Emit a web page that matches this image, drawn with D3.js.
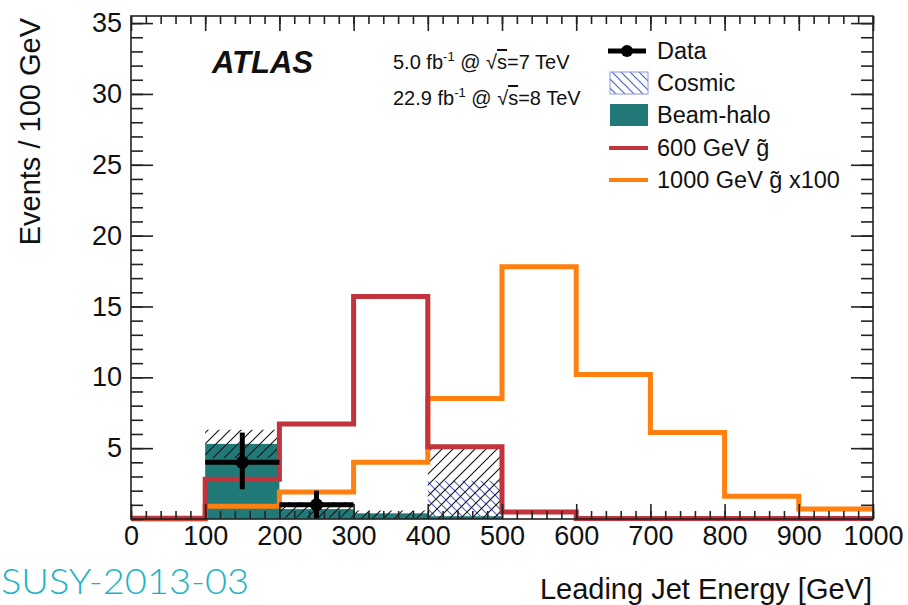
<!DOCTYPE html>
<html lang="en">
<head>
    <meta charset="utf-8">
    <title>Leading Jet Energy</title>
    <style type="text/css">
        body{ margin:0; background:#fff; }
        .chart text{ font-family:"Liberation Sans", Arial, sans-serif; fill:#111; }
        .axis path{ display:none; }
        .axis line{ stroke:#222; stroke-width:1.6; }
        .axis text{ font-size:27px; fill:#111; }
    </style>
</head>
<body>
   <svg class="chart" width="908" height="605"></svg>

   <script src="https://d3js.org/d3.v7.min.js"></script>
   <script>
        // bins of 100 GeV
        var binEdges = [0, 100, 200, 300, 400, 500, 600, 700, 800, 900];
        var gluino600 = [0.05, 2.8, 6.7, 15.7, 5.1, 0.5, 0.03, 0.03, 0.03, 0.03];
        var gluino1000 = [0, 0.9, 1.9, 4.0, 8.5, 17.8, 10.2, 6.1, 1.6, 0.7];
        var beamHalo = [0, 5.3, 0.7, 0.4, 0.2, 0, 0, 0, 0, 0];
        var cosmic = [0, 0, 0, 0, 2.5, 0, 0, 0, 0, 0];
        // uncertainty band on the background sum
        var bandLo = [0, 4.3, 0.1, 0, 0, 0, 0, 0, 0, 0];
        var bandHi = [0, 6.3, 1.2, 0.6, 5.1, 0, 0, 0, 0, 0];
        // data points
        var dataX = [150, 250];
        var dataY = [4, 1];
        var dataLo = [2.1, 0];
        var dataHi = [6.1, 2.0];

        var yTicks = [5, 10, 15, 20, 25, 30, 35];
        var xTicks = [0, 100, 200, 300, 400, 500, 600, 700, 800, 900, 1000];

        var svg = d3.select('.chart');
        var defs = svg.append('defs');

        // hatch patterns
        var hatch = defs.append('pattern')
            .attr('id', 'hatchBlack')
            .attr('patternUnits', 'userSpaceOnUse')
            .attr('width', 11).attr('height', 11);
        hatch.append('path')
            .attr('d', 'M0,11 L11,0 M-3,3 L3,-3 M8,14 L14,8')
            .attr('stroke', '#111').attr('stroke-width', 1.1);

        var hatchBlue = defs.append('pattern')
            .attr('id', 'hatchBlue')
            .attr('patternUnits', 'userSpaceOnUse')
            .attr('width', 9).attr('height', 9);
        hatchBlue.append('path')
            .attr('d', 'M0,0 L9,9 M-3,6 L3,12 M6,-3 L12,3')
            .attr('stroke', '#4a5fcc').attr('stroke-width', 1.1);

        var x = d3.scaleLinear().domain([0, 1000]).range([131, 873]);
        var y = d3.scaleLinear().domain([0, 35.5]).range([519, 16]);
        var bw = 100;

        // beam-halo
        svg.append('g').selectAll('rect')
            .data(beamHalo)
            .enter()
            .append('rect')
            .attr('x', function(d, i){ return x(binEdges[i]); })
            .attr('y', function(d){ return y(d); })
            .attr('width', function(d, i){ return x(binEdges[i] + bw) - x(binEdges[i]); })
            .attr('height', function(d){ return y(0) - y(d); })
            .attr('fill', '#217a78');

        // cosmic stacked on beam-halo
        svg.append('g').selectAll('rect')
            .data(cosmic)
            .enter()
            .append('rect')
            .attr('x', function(d, i){ return x(binEdges[i]); })
            .attr('y', function(d, i){ return y(d + beamHalo[i]); })
            .attr('width', function(d, i){ return x(binEdges[i] + bw) - x(binEdges[i]); })
            .attr('height', function(d, i){ return y(beamHalo[i]) - y(d + beamHalo[i]); })
            .attr('fill', 'url(#hatchBlue)');

        // uncertainty band
        svg.append('g').selectAll('rect')
            .data(bandHi)
            .enter()
            .append('rect')
            .attr('x', function(d, i){ return x(binEdges[i]); })
            .attr('y', function(d){ return y(d); })
            .attr('width', function(d, i){ return x(binEdges[i] + bw) - x(binEdges[i]); })
            .attr('height', function(d, i){ return Math.max(0, y(bandLo[i]) - y(d)); })
            .attr('fill', 'url(#hatchBlack)');

        // step lines
        function steps(vals){
            var pts = vals.map(function(v, i){ return [binEdges[i], v]; });
            pts.push([1000, vals[vals.length - 1]]);
            return pts;
        }
        var stepLine = d3.line()
            .x(function(d){ return x(d[0]); })
            .y(function(d){ return y(d[1]); })
            .curve(d3.curveStepAfter);

        svg.append('path')
            .attr('d', stepLine(steps(gluino1000)))
            .attr('fill', 'none')
            .attr('stroke', '#ff7f0f')
            .attr('stroke-width', 5);

        svg.append('path')
            .attr('d', stepLine(steps(gluino600)))
            .attr('fill', 'none')
            .attr('stroke', '#c3333b')
            .attr('stroke-width', 5);

        // data
        var gd = svg.append('g');
        gd.selectAll('.xerr')
            .data(dataX)
            .enter()
            .append('line')
            .attr('x1', function(d){ return x(d - 50); })
            .attr('x2', function(d){ return x(d + 50); })
            .attr('y1', function(d, i){ return y(dataY[i]); })
            .attr('y2', function(d, i){ return y(dataY[i]); })
            .attr('stroke', '#000').attr('stroke-width', 5);
        gd.selectAll('.yerr')
            .data(dataX)
            .enter()
            .append('line')
            .attr('x1', function(d){ return x(d); })
            .attr('x2', function(d){ return x(d); })
            .attr('y1', function(d, i){ return y(dataLo[i]); })
            .attr('y2', function(d, i){ return y(dataHi[i]); })
            .attr('stroke', '#000').attr('stroke-width', 5);
        gd.selectAll('circle')
            .data(dataX)
            .enter()
            .append('circle')
            .attr('cx', function(d){ return x(d); })
            .attr('cy', function(d, i){ return y(dataY[i]); })
            .attr('r', 6.5)
            .attr('fill', '#000');

        // axes (ticks inside the frame)
        var minorY = d3.range(0, 36, 1);
        var minorX = d3.range(0, 1001, 20);

        svg.append('g').attr('class', 'axis')
            .attr('transform', 'translate(' + x(0) + ',0)')
            .call(d3.axisLeft(y).tickValues(minorY).tickSize(-12).tickFormat(''));
        svg.append('g').attr('class', 'axis')
            .attr('transform', 'translate(' + x(0) + ',0)')
            .call(d3.axisLeft(y).tickValues(yTicks).tickSizeInner(-22).tickSizeOuter(0).tickPadding(9));
        svg.append('g').attr('class', 'axis')
            .attr('transform', 'translate(' + x(1000) + ',0)')
            .call(d3.axisRight(y).tickValues(minorY).tickSize(-12).tickFormat(''));
        svg.append('g').attr('class', 'axis')
            .attr('transform', 'translate(' + x(1000) + ',0)')
            .call(d3.axisRight(y).tickValues(yTicks).tickSize(-22).tickFormat(''));

        svg.append('g').attr('class', 'axis')
            .attr('transform', 'translate(0,' + y(0) + ')')
            .call(d3.axisBottom(x).tickValues(minorX).tickSize(-8).tickFormat(''));
        svg.append('g').attr('class', 'axis')
            .attr('transform', 'translate(0,' + y(0) + ')')
            .call(d3.axisBottom(x).tickValues(xTicks).tickSizeInner(-15).tickSizeOuter(0)
                .tickPadding(7).tickFormat(d3.format('d')));
        svg.append('g').attr('class', 'axis')
            .attr('transform', 'translate(0,' + y(35.5) + ')')
            .call(d3.axisTop(x).tickValues(minorX).tickSize(-8).tickFormat(''));
        svg.append('g').attr('class', 'axis')
            .attr('transform', 'translate(0,' + y(35.5) + ')')
            .call(d3.axisTop(x).tickValues(xTicks).tickSize(-15).tickFormat(''));

        // frame
        svg.append('rect')
            .attr('x', x(0)).attr('y', y(35.5))
            .attr('width', x(1000) - x(0))
            .attr('height', y(0) - y(35.5))
            .attr('fill', 'none')
            .attr('stroke', '#222')
            .attr('stroke-width', 1.6);

        // axis titles
        svg.append('text')
            .attr('transform', 'translate(40,18) rotate(-90)')
            .attr('text-anchor', 'end')
            .attr('font-size', 29)
            .text('Events / 100 GeV');
        svg.append('text')
            .attr('x', 872).attr('y', 599)
            .attr('text-anchor', 'end')
            .attr('font-size', 29)
            .text('Leading Jet Energy [GeV]');

        // ATLAS label
        svg.append('text')
            .attr('x', 212).attr('y', 73)
            .attr('font-size', 31)
            .attr('font-weight', 'bold')
            .attr('font-style', 'italic')
            .text('ATLAS');

        // luminosity
        var lumi = [['5.0', '7'], ['22.9', '8']];
        lumi.forEach(function(l, i){
            var t = svg.append('text')
                .attr('x', 393).attr('y', 69 + i * 36)
                .attr('font-size', 20);
            t.append('tspan').text(l[0] + ' fb');
            t.append('tspan').attr('font-size', 13).attr('dy', -8).text('-1');
            t.append('tspan').attr('dy', 8).text(' @ ');
            t.append('tspan').text('\u221A');
            t.append('tspan').style('text-decoration', 'overline').text('s');
            t.append('tspan').text('=' + l[1] + ' TeV');
        });

        // legend
        var leg = svg.append('g');
        var legY = [51, 83, 115, 148, 180];
        var legText = ['Data', 'Cosmic', 'Beam-halo', '600 GeV g\u0303', '1000 GeV g\u0303 x100'];
        leg.append('line')
            .attr('x1', 608).attr('x2', 646).attr('y1', legY[0]).attr('y2', legY[0])
            .attr('stroke', '#000').attr('stroke-width', 5);
        leg.append('circle')
            .attr('cx', 627).attr('cy', legY[0]).attr('r', 6).attr('fill', '#000');
        leg.append('rect')
            .attr('x', 610).attr('y', legY[1] - 11).attr('width', 38).attr('height', 22)
            .attr('fill', 'url(#hatchBlue)')
            .attr('stroke', '#8a98dd').attr('stroke-width', 1);
        leg.append('rect')
            .attr('x', 610).attr('y', legY[2] - 11).attr('width', 38).attr('height', 22)
            .attr('fill', '#217a78');
        leg.append('line')
            .attr('x1', 609).attr('x2', 648).attr('y1', legY[3]).attr('y2', legY[3])
            .attr('stroke', '#c3333b').attr('stroke-width', 4);
        leg.append('line')
            .attr('x1', 609).attr('x2', 648).attr('y1', legY[4]).attr('y2', legY[4])
            .attr('stroke', '#ff7f0f').attr('stroke-width', 4);
        leg.selectAll('.lt')
            .data(legText)
            .enter()
            .append('text')
            .attr('x', 657)
            .attr('y', function(d, i){ return legY[i] + 8; })
            .attr('font-size', 23.5)
            .text(function(d){ return d; });

        // publication tag
        svg.append('text')
            .attr('x', 1).attr('y', 594)
            .attr('font-size', 36)
            .attr('font-weight', 300)
            .style('font-family', 'Lato, "DejaVu Sans", sans-serif')
            .style('fill', '#1ab4c6')
            .attr('textLength', 248)
            .attr('lengthAdjust', 'spacingAndGlyphs')
            .text('SUSY-2013-03');
   </script>
</body>
</html>
